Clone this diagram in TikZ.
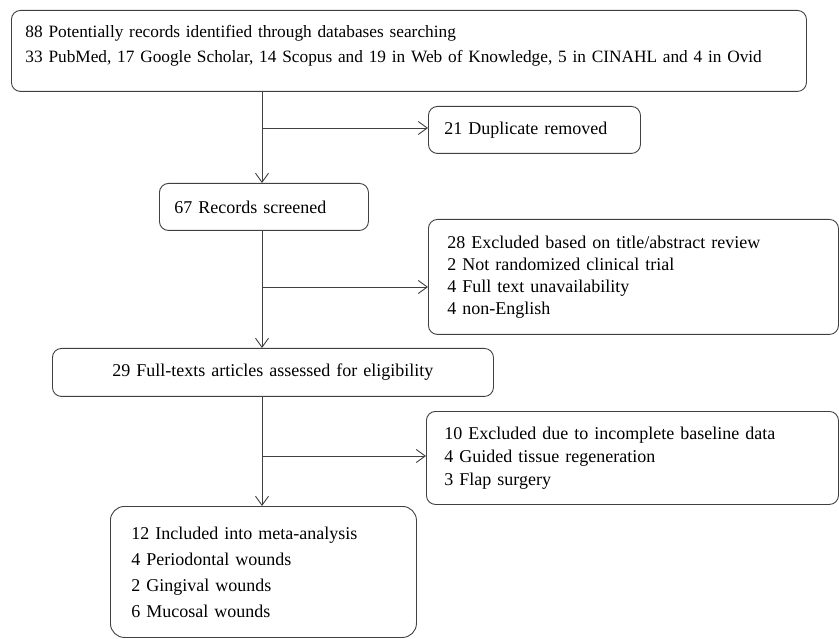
\documentclass[tikz,border=0pt]{standalone}
\usepackage{fontspec}
\setmainfont{Liberation Serif}
\usetikzlibrary{arrows.meta,positioning}
\tikzset{
	recbox/.style={draw=black!75, line width=0.9pt, rounded corners=9pt, anchor=north west, align=left, inner ysep=0pt, font=\fontsize{18}{22}\selectfont},
	flow/.style={draw=black!75, line width=0.9pt, -{Straight Barb[length=9pt,width=13pt]}}
}
\begin{document}
\begin{tikzpicture}[x=1pt,y=-1pt]
			\useasboundingbox (0,0) rectangle (839,639);
			\node[recbox, minimum width=795pt, minimum height=81pt, text width=767pt, inner xsep=14pt, text depth=39pt, font=\fontsize{17.3}{25}\selectfont] (ident) at (11,10) {88 Potentially records identified through databases searching\\33 PubMed, 17 Google Scholar, 14 Scopus and 19 in Web of Knowledge, 5 in CINAHL and 4 in Ovid};
			\node[recbox, minimum width=212pt, minimum height=47pt, text width=180pt, inner xsep=16pt] (dup) at (428,106) {21 Duplicate removed};
			\node[recbox, minimum width=209pt, minimum height=47pt, text width=179pt, inner xsep=15pt] (screen) at (159,183) {67 Records screened};
			\node[recbox, minimum width=410pt, minimum height=115pt, text width=372pt, inner xsep=19pt] (excl) at (428,219) {28 Excluded based on title/abstract review\\2 Not randomized clinical trial\\4 Full text unavailability\\4 non-English};
			\node[recbox, minimum width=441pt, minimum height=48pt, text width=421pt, inner xsep=10pt, align=center] (full) at (52,348) {29 Full-texts articles assessed for eligibility};
			\node[recbox, minimum width=412pt, minimum height=93pt, text width=376pt, inner xsep=18pt, font=\fontsize{18}{23}\selectfont] (incomp) at (426,411) {10 Excluded due to incomplete baseline data\\4 Guided tissue regeneration\\3 Flap surgery};
			\node[recbox, minimum width=306pt, minimum height=131pt, text width=264pt, inner xsep=21pt, rounded corners=14pt, font=\fontsize{18}{26}\selectfont] (incl) at (110,506) {12 Included into meta-analysis\\4 Periodontal wounds\\2 Gingival wounds\\6 Mucosal wounds};
			% trunk and branch points
			\coordinate (trunk) at (262,0);
			\coordinate (j1) at (262,128);
			\coordinate (j2) at (262,287);
			\coordinate (j3) at (262,456);
			\draw[flow] (ident.south -| trunk) -- (screen.north -| trunk);
			\draw[flow] (screen.south -| trunk) -- (full.north -| trunk);
			\draw[flow] (full.south -| trunk) -- (incl.north -| trunk);
			\draw[flow] (j1) -- (j1 -| dup.west);
			\draw[flow] (j2) -- (j2 -| excl.west);
			\draw[flow] (j3) -- (j3 -| incomp.west);
		\end{tikzpicture}
\end{document}
